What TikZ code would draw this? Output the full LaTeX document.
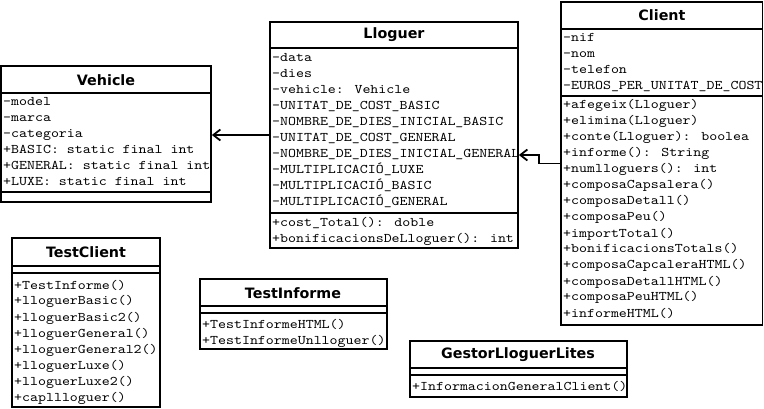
\documentclass[tikz,border=0pt]{standalone}
\usepackage{fontspec}
\newfontfamily\titlefont{DejaVu Sans}
\newfontfamily\memfamily{lmmono10-regular.otf}[FakeStretch=1.15]
\usetikzlibrary{arrows.meta,fit}
\newcommand\memfont{\memfamily\fontsize{13.2}{16}\selectfont}
\begin{document}
\begin{tikzpicture}[x=1pt,y=-1pt,
  box/.style={draw, line width=1.8pt, inner sep=0pt},
  sepline/.style={line width=1.8pt},
  mem/.style={anchor=base west, inner sep=0pt, font=\memfont},
  ttl/.style={inner sep=0pt, font=\titlefont\bfseries\fontsize{14.3}{17}\selectfont},
  assoc/.style={line width=1.8pt, -{Straight Barb[length=7pt,width=11pt]}}]
\useasboundingbox (0,0) rectangle (764,409);

% ---------- Vehicle ----------
\node[box, fit={(1,66) (211,202)}] (veh) {};
\draw[sepline] (1,93) -- (211,93) (1,192) -- (211,192);
\node[ttl] (vehT) at (106,80) {Vehicle};
\foreach \t [count=\i from 0] in {-model,-marca,-categoria,+BASIC: static final int,+GENERAL: static final int,+LUXE: static final int}
  \node[mem] (vehA\i) at (3,{106+16*\i}) {\t};

% ---------- Lloguer ----------
\node[box, fit={(270,22) (518,248)}] (llo) {};
\draw[sepline] (270,48) -- (518,48) (270,213) -- (518,213);
\node[ttl] (lloT) at (394,35) {Lloguer};
\foreach \t [count=\i from 0] in {-data,-dies,-vehicle: Vehicle,-UNITAT\_DE\_COST\_BASIC,-NOMBRE\_DE\_DIES\_INICIAL\_BASIC,-UNITAT\_DE\_COST\_GENERAL,-NOMBRE\_DE\_DIES\_INICIAL\_GENERAL,-MULTIPLICACIÓ\_LUXE,-MULTIPLICACIÓ\_BASIC,-MULTIPLICACIÓ\_GENERAL}
  \node[mem] (lloA\i) at (272,{62+16*\i}) {\t};
\node[mem] (lloM0) at (272,227) {+cost\_Total(): doble};
\node[mem] (lloM1) at (272,243) {+bonificacionsDeLloguer(): int};

% ---------- Client ----------
\node[box, fit={(561,2) (762.5,325)}] (cli) {};
\draw[sepline] (561,29) -- (762.5,29) (561,96) -- (762.5,96);
\node[ttl] (cliT) at (662,15) {Client};
\foreach \t [count=\i from 0] in {-nif,-nom,-telefon,-EUROS\_PER\_UNITAT\_DE\_COST}
  \node[mem] (cliA\i) at (563,{42+16*\i}) {\t};
\foreach \t [count=\i from 0] in {+afegeix(Lloguer),+elimina(Lloguer),+conte(Lloguer): boolea,+informe(): String,+numlloguers(): int,+composaCapsalera(),+composaDetall(),+composaPeu(),+importTotal(),+bonificacionsTotals(),+composaCapcaleraHTML(),+composaDetallHTML(),+composaPeuHTML(),+informeHTML()}
  \node[mem] (cliM\i) at (563,{109+16*\i}) {\t};

% ---------- TestClient ----------
\node[box, fit={(12,238) (160,407)}] (tc) {};
\draw[sepline] (12,266) -- (160,266) (12,273) -- (160,273);
\node[ttl] (tcT) at (86,252) {TestClient};
\foreach \t [count=\i from 0] in {+TestInforme(),+lloguerBasic(),+lloguerBasic2(),+lloguerGeneral(),+lloguerGeneral2(),+lloguerLuxe(),+lloguerLuxe2(),+capllloguer()}
  \node[mem] (tcM\i) at (14,{289+16*\i}) {\t};

% ---------- TestInforme ----------
\node[box, fit={(200,279) (387,349)}] (ti) {};
\draw[sepline] (200,306) -- (387,306) (200,313) -- (387,313);
\node[ttl] (tiT) at (293,293) {TestInforme};
\node[mem] (tiM0) at (202,328) {+TestInformeHTML()};
\node[mem] (tiM1) at (202,344) {+TestInformeUnlloguer()};

% ---------- GestorLloguerLites ----------
\node[box, fit={(410,341) (627,397)}] (gl) {};
\draw[sepline] (410,368) -- (627,368) (410,375) -- (627,375);
\node[ttl] (glT) at (518,355) {GestorLloguerLites};
\node[mem] (glM0) at (412,390) {+InformacionGeneralClient()};

% ---------- connectors ----------
\draw[assoc] (llo.west) -- (llo.west -| veh.east);
\draw[assoc] (cli.west) -- ++(-21,0) |- ([yshift=-20pt]llo.east);
\end{tikzpicture}
\end{document}
